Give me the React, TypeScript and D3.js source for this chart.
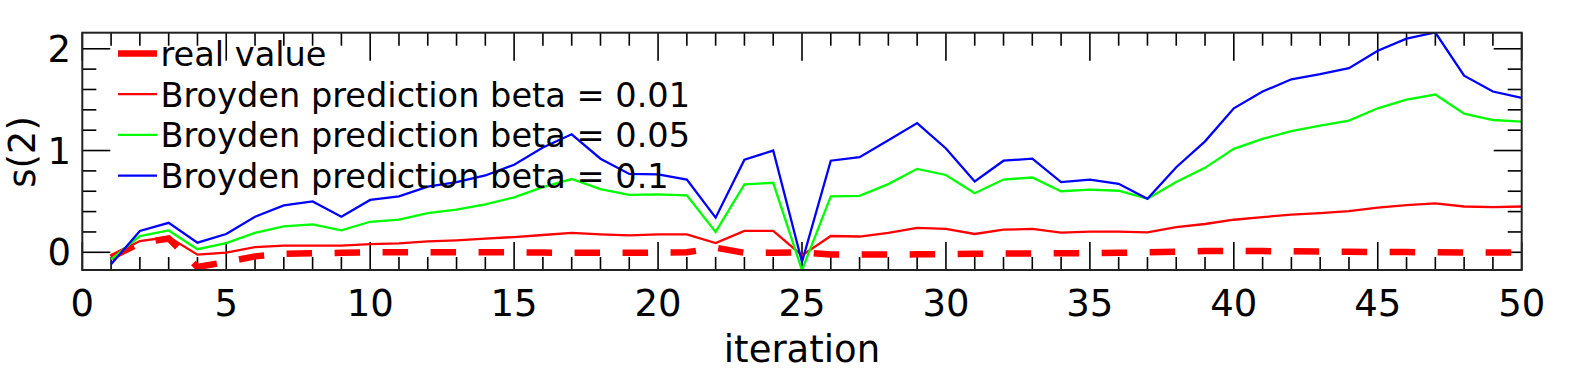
import React from "react";
import * as d3 from "d3";

// iteration index and the four series
const iterations = [
  1, 2, 3, 4, 5, 6, 7, 8, 9, 10, 11, 12, 13, 14, 15, 16, 17, 18, 19, 20, 21, 22, 23, 24, 25,
  26, 27, 28, 29, 30, 31, 32, 33, 34, 35, 36, 37, 38, 39, 40, 41, 42, 43, 44, 45, 46, 47, 48, 49, 50,
];
const realValue = [
  -0.05, 0.09, 0.135, -0.145, -0.095, -0.04, -0.015, -0.01, -0.005, 0.0,
  0.0, 0.0, 0.0, 0.0, 0.0, -0.003, -0.005, -0.005, -0.005, -0.003,
  0.0, 0.045, -0.005, -0.005, 0.0, -0.022, -0.022, -0.022, -0.02, -0.018,
  -0.015, -0.013, -0.012, -0.01, -0.008, -0.005, 0.0, 0.005, 0.012, 0.013,
  0.012, 0.01, 0.008, 0.005, 0.003, 0.002, 0.0, -0.003, -0.003, -0.003,
];
const beta001 = [
  -0.035, 0.11, 0.15, -0.023, -0.003, 0.05, 0.065, 0.065, 0.065, 0.08,
  0.088, 0.108, 0.118, 0.134, 0.15, 0.17, 0.19, 0.176, 0.167, 0.176,
  0.176, 0.09, 0.21, 0.21, -0.03, 0.16, 0.155, 0.19, 0.24, 0.23,
  0.18, 0.222, 0.23, 0.193, 0.203, 0.203, 0.196, 0.248, 0.278, 0.32,
  0.346, 0.37, 0.385, 0.405, 0.438, 0.464, 0.48, 0.45, 0.444, 0.45,
];
const beta005 = [
  -0.07, 0.16, 0.215, 0.03, 0.09, 0.19, 0.255, 0.275, 0.215, 0.3,
  0.32, 0.385, 0.42, 0.47, 0.54, 0.64, 0.72, 0.62, 0.565, 0.57,
  0.56, 0.2, 0.667, 0.683, -0.176, 0.55, 0.555, 0.67, 0.82, 0.76,
  0.58, 0.715, 0.735, 0.6, 0.615, 0.605, 0.526, 0.69, 0.83, 1.017,
  1.115, 1.19, 1.245, 1.294, 1.415, 1.5, 1.55, 1.363, 1.3, 1.284,
];
const beta01 = [
  -0.118, 0.21, 0.29, 0.095, 0.18, 0.35, 0.46, 0.5, 0.35, 0.515,
  0.55, 0.645, 0.69, 0.755, 0.86, 1.03, 1.16, 0.92, 0.77, 0.765,
  0.715, 0.34, 0.91, 1.0, -0.095, 0.9, 0.935, 1.1, 1.27, 1.02,
  0.696, 0.9, 0.92, 0.69, 0.715, 0.673, 0.526, 0.836, 1.09, 1.415,
  1.58, 1.7, 1.75, 1.81, 1.98, 2.1, 2.16, 1.735, 1.58, 1.517,
];

const legendLabels = [
  "real value",
  "Broyden prediction beta = 0.01",
  "Broyden prediction beta = 0.05",
  "Broyden prediction beta = 0.1",
];
const xTickLabels = [0, 5, 10, 15, 20, 25, 30, 35, 40, 45, 50];
const yTickLabels = [0, 1, 2];

const W = 1575;
const H = 371;
const left = 82.3;
const right = 1521.7;
const top = 32.7;
const bottom = 270;
const font = "'DejaVu Sans', sans-serif";

const series = [
  { values: realValue, color: "#ff0000", width: 6.5, dash: "25.5 22.5" },
  { values: beta001, color: "#ff0000", width: 2.3, dash: null },
  { values: beta005, color: "#00ff00", width: 2.3, dash: null },
  { values: beta01, color: "#0000ff", width: 2.3, dash: null },
];

export default function App() {
  const x = d3.scaleLinear().domain([0, 50]).range([left, right]);
  const y = d3.scaleLinear().domain([-0.174, 2.158]).range([bottom, top]);

  const line = (vals: number[]) =>
    d3
      .line<number>()
      .x((_, i) => x(iterations[i]))
      .y((v) => y(v))(vals) || "";

  const xMinor = d3.range(0, 51, 1);
  const yMinor = d3.range(0, 2.01, 0.2);

  return (
    <svg
      width={W}
      height={H}
      style={{ position: "absolute", left: 0, top: 0, background: "#fff" }}
    >
      <defs>
        <clipPath id="plot">
          <rect x={left} y={top} width={right - left} height={bottom - top} />
        </clipPath>
      </defs>

      {/* x ticks, top and bottom, pointing in */}
      {xMinor.map((t) => {
        const len = t % 5 === 0 ? 28 : 13;
        return (
          <g key={"xt" + t} stroke="#000" strokeWidth={1.6}>
            <line x1={x(t)} x2={x(t)} y1={bottom} y2={bottom - len} />
            <line x1={x(t)} x2={x(t)} y1={top} y2={top + len} />
          </g>
        );
      })}
      {/* y ticks, left and right */}
      {yMinor.map((t, i) => {
        const len = i % 5 === 0 ? 28 : 14;
        return (
          <g key={"yt" + i} stroke="#000" strokeWidth={1.6}>
            <line x1={left} x2={left + len} y1={y(t)} y2={y(t)} />
            <line x1={right} x2={right - len} y1={y(t)} y2={y(t)} />
          </g>
        );
      })}

      <g clipPath="url(#plot)">
        {series.map((s, i) => (
          <path
            key={i}
            d={line(s.values)}
            fill="none"
            stroke={s.color}
            strokeWidth={s.width}
            strokeDasharray={s.dash || undefined}
            strokeLinejoin="miter"
          />
        ))}
      </g>

      <rect
        x={left}
        y={top}
        width={right - left}
        height={bottom - top}
        fill="none"
        stroke="#222"
        strokeWidth={2}
      />

      {/* legend */}
      {legendLabels.map((lbl, i) => {
        const cy = 53.5 + i * 40.7;
        const s = series[i];
        return (
          <g key={lbl}>
            <line
              x1={118}
              x2={157}
              y1={cy}
              y2={cy}
              stroke={s.color}
              strokeWidth={s.width}
            />
            <text
              x={160.5}
              y={cy + 12.5}
              fontFamily={font}
              fontSize={33.6}
              fill="#000"
            >
              {lbl}
            </text>
          </g>
        );
      })}

      {xTickLabels.map((t) => (
        <text
          key={"xl" + t}
          x={x(t)}
          y={316}
          textAnchor="middle"
          fontFamily={font}
          fontSize={37}
        >
          {t}
        </text>
      ))}
      {yTickLabels.map((t) => (
        <text
          key={"yl" + t}
          x={71}
          y={y(t) + 13}
          textAnchor="end"
          fontFamily={font}
          fontSize={37}
        >
          {t}
        </text>
      ))}

      <text
        x={(left + right) / 2}
        y={362}
        textAnchor="middle"
        fontFamily={font}
        fontSize={37}
      >
        iteration
      </text>
      <text
        transform={`translate(35,152) rotate(-90)`}
        textAnchor="middle"
        fontFamily={font}
        fontSize={37}
      >
        s(2)
      </text>
    </svg>
  );
}
